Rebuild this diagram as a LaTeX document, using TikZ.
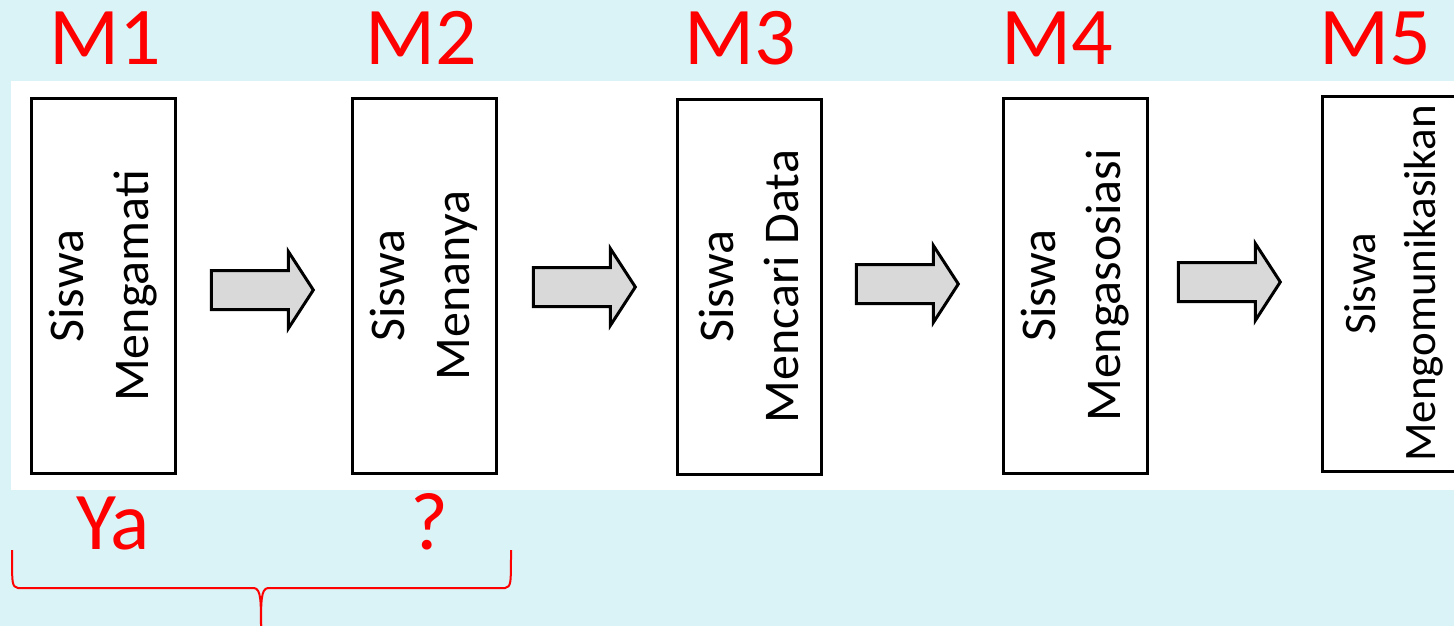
\documentclass[tikz,border=0pt]{standalone}
\usepackage{fontspec}
\setmainfont{Carlito}
\usetikzlibrary{shapes.arrows}
\definecolor{bgcyan}{RGB}{218,243,247}
\definecolor{arrowgray}{RGB}{217,217,217}
\definecolor{labelred}{RGB}{255,0,0}
\tikzset{
  stepbox/.style={draw=black, line width=3pt, fill=white, rotate=90,
    minimum width=375pt, minimum height=144pt, inner sep=0pt, align=center,
    font=\fontsize{50}{65}\selectfont},
  flowarrow/.style={single arrow, draw=black, line width=3pt, fill=arrowgray,
    single arrow head extend=19pt, single arrow tip angle=114,
    inner xsep=0pt, inner ysep=18pt, minimum height=102pt},
  steplabel/.style={text=labelred, font=\fontsize{82}{90}\selectfont, inner sep=0pt, anchor=base},
  brace/.style={draw=labelred, line width=2pt}
}
\begin{document}
\begin{tikzpicture}[x=1pt, y=-1pt]
  % page and white band
  \fill[bgcyan] (0,0) rectangle (1454,626);
  \useasboundingbox (0,0) rectangle (1454,626);
  \clip (0,0) rectangle (1454,626);
  \fill[white] (11,81) rectangle (1454,490);

  % step labels
  \node[steplabel] (m1) at (105,65) {M1};
  \node[steplabel] (m2) at (421,65) {M2};
  \node[steplabel] (m3) at (740,65) {M3};
  \node[steplabel] (m4) at (1057,65) {M4};
  \node[steplabel] (m5) at (1375,65) {M5};

  % the five stages
  \node[stepbox] (b1) at (103.5,286) {Siswa\\Mengamati};
  \node[stepbox] (b2) at (424,285.5) {Siswa\\Menanya};
  \node[stepbox] (b3) at (749,286.5) {Siswa\\Mencari Data};
  \node[stepbox] (b4) at (1075,285.5) {Siswa\\Mengasosiasi};
  \node[stepbox, font=\fontsize{45}{60}\selectfont] (b5) at (1394,283.5) {Siswa\\Mengomunikasikan};

  % block arrows between stages
  \node[flowarrow] (a1) at (256,290) {};
  \node[flowarrow] (a2) at (578,287) {};
  \node[flowarrow] (a3) at (901,284) {};
  \node[flowarrow] (a4) at (1223,282) {};

  % answers under the first two stages
  \node[steplabel] (ya) at (113,549) {Ya};
  \node[steplabel] (q) at (429,549) {?};

  % brace grouping the first two stages
  \coordinate (bl) at (12,550);
  \coordinate (br) at (511,550);
  \coordinate (bt) at (261,630);
  \draw[brace] (bl) .. controls (12,586) .. (18,588) -- (254,588)
    .. controls (261,589) and (261,600) .. (bt);
  \draw[brace] (br) .. controls (511,586) .. (505,588) -- (268,588)
    .. controls (261,589) and (261,600) .. (bt);
\end{tikzpicture}
\end{document}
